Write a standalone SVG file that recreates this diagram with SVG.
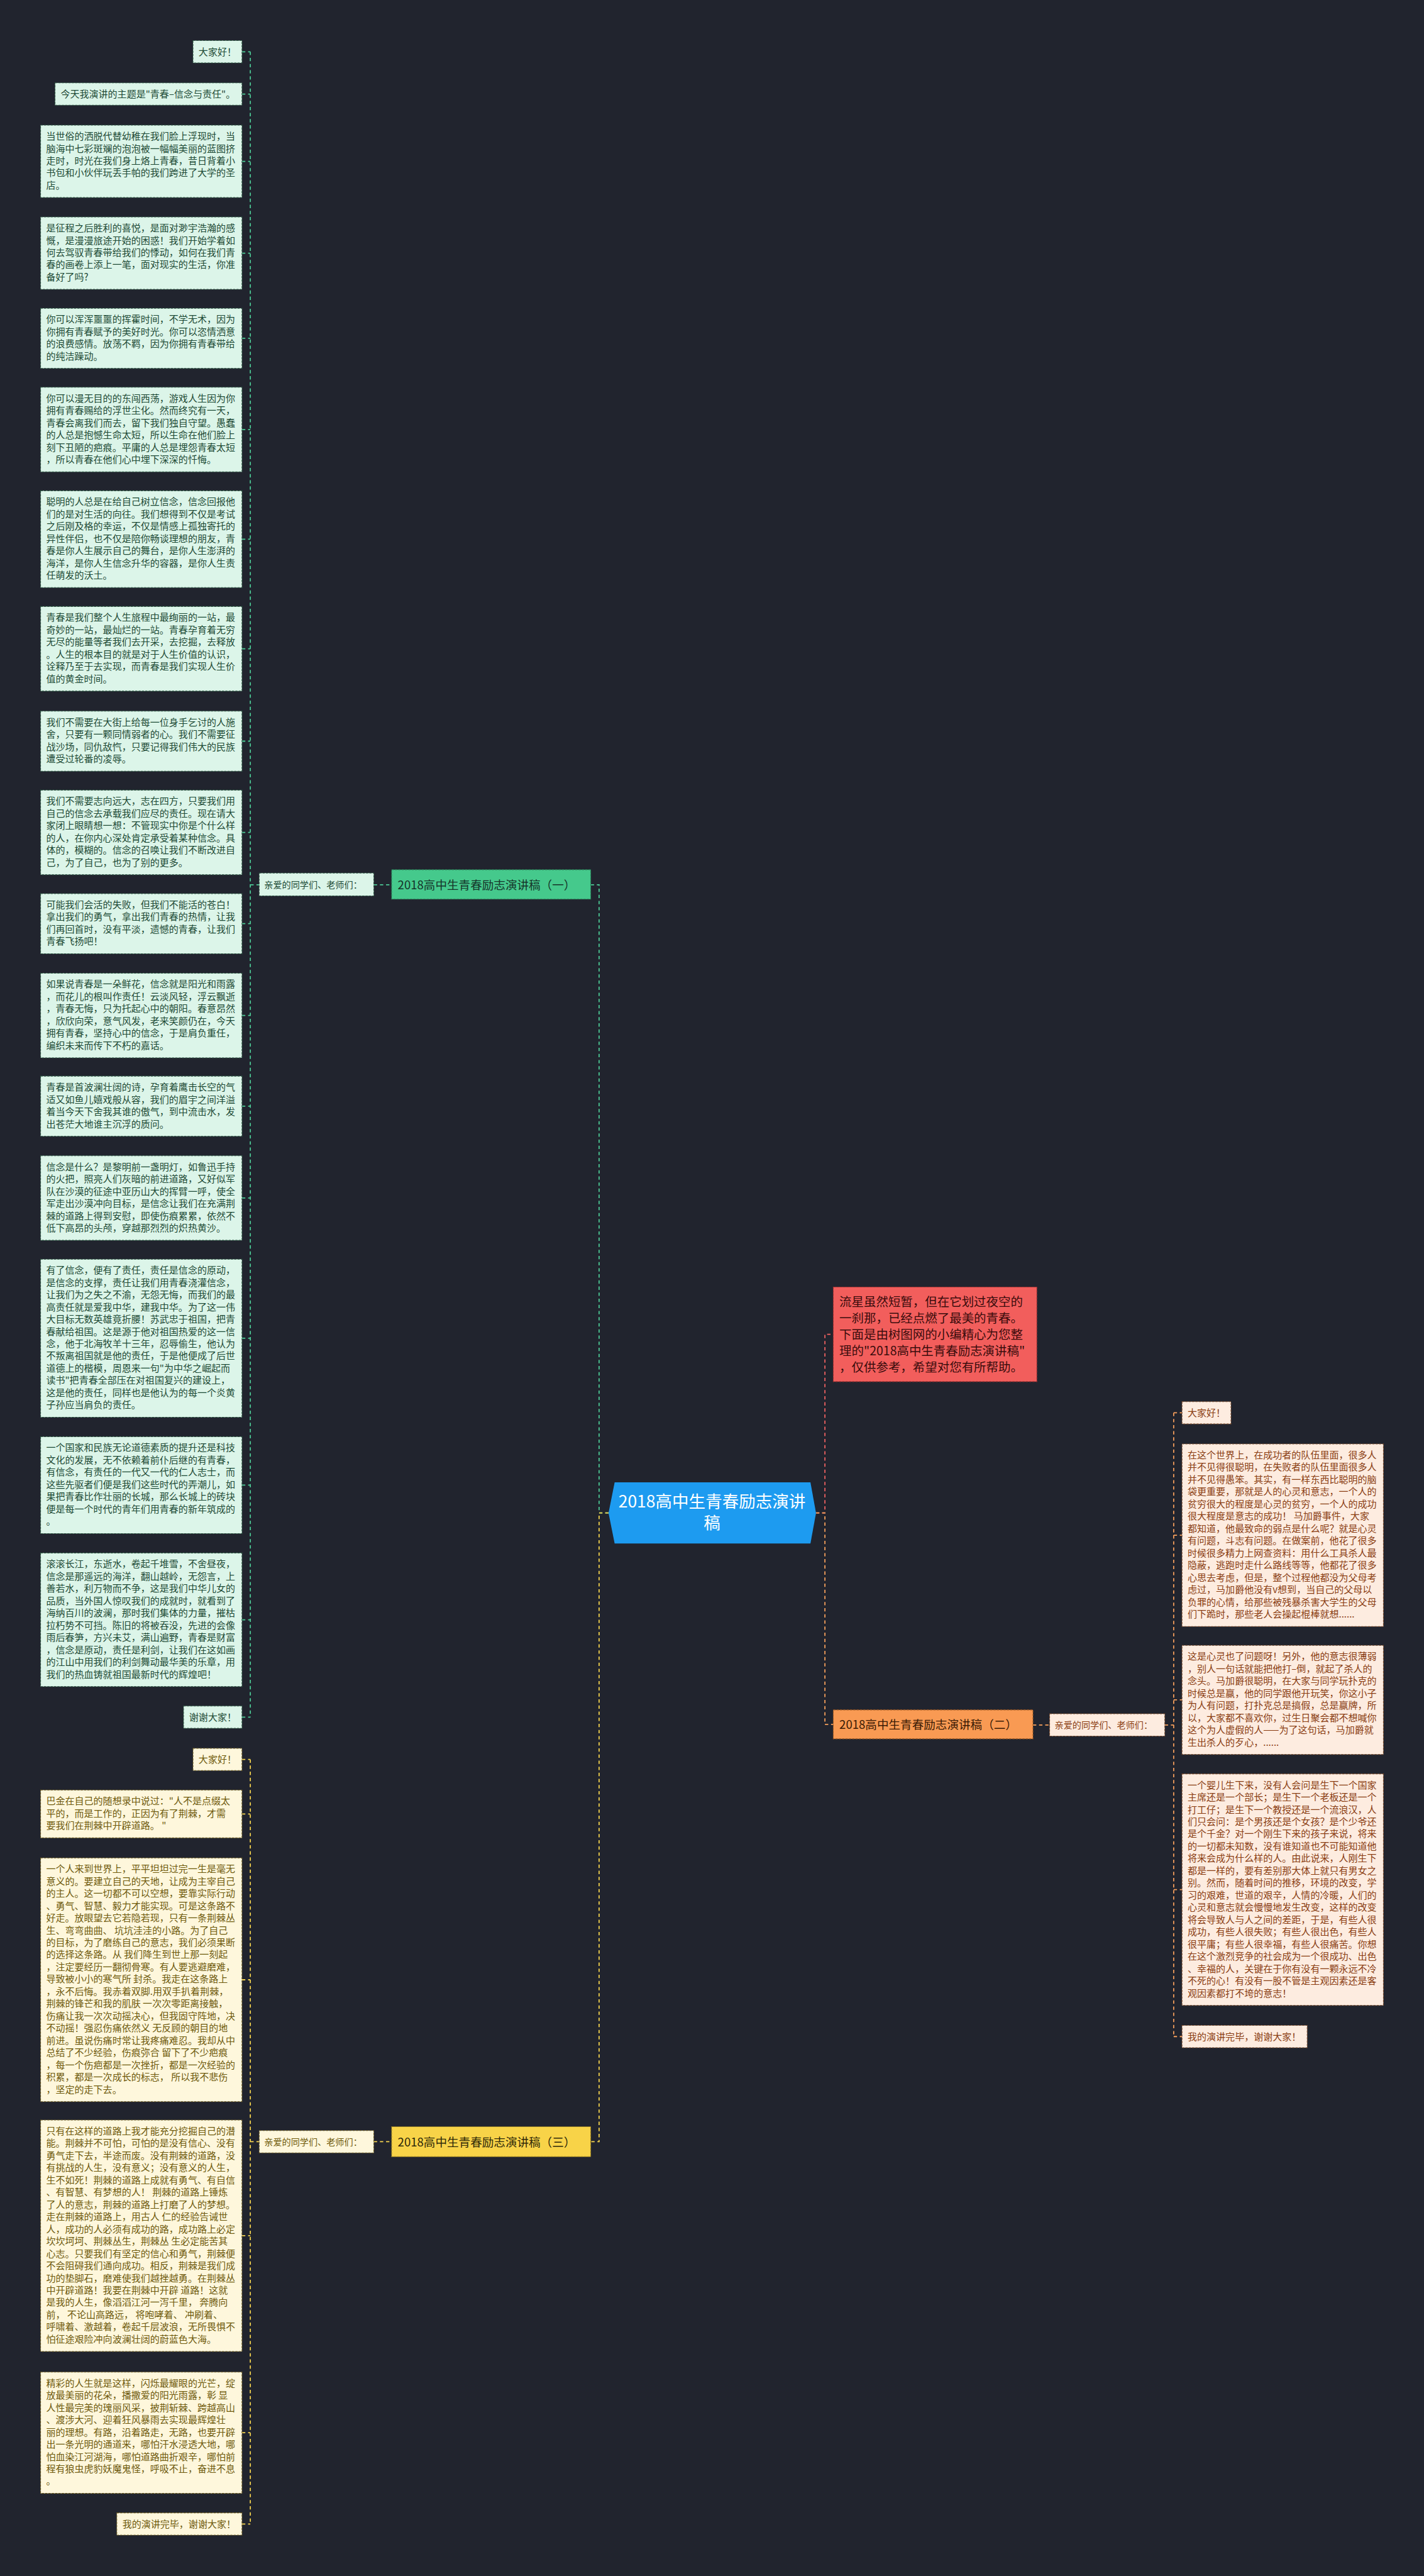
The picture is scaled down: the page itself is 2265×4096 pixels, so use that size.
<svg xmlns="http://www.w3.org/2000/svg" width="2265" height="4096" viewBox="0 0 2265 4096">
<style>
text{font-family:"Noto Sans CJK SC","Noto Sans",sans-serif}
.p{font-size:17px}
.gb{fill:#dcf5e9;stroke:#2f5a45;stroke-width:1.2;stroke-dasharray:4 2}
.gt{fill:#1d4a35}
.yb{fill:#fef7dc;stroke:#6a5a20;stroke-width:1.2;stroke-dasharray:4 2}
.yt{fill:#6e5a0c}
.ob{fill:#fdece0;stroke:#7a4a2a;stroke-width:1.2;stroke-dasharray:4 2}
.ot{fill:#8a3d12}
.cg{fill:none;stroke:#4cc995;stroke-width:2;stroke-dasharray:6 5}
.cy{fill:none;stroke:#f3d24e;stroke-width:2;stroke-dasharray:6 5}
.co{fill:none;stroke:#f7a05c;stroke-width:2;stroke-dasharray:6 5}
.cr{fill:none;stroke:#f06262;stroke-width:2;stroke-dasharray:6 5}
.lbl{font-size:16px}
.ttl{font-size:21px}
</style>
<rect width="2265" height="4096" fill="#21242e"/>
<g transform="scale(0.884766)">
<g id="connectors">
<path class="cg" d="M450 93V3086M435 93H450M435 169H450M435 290H450M435 455H450M435 608H450M435 772H450M435 969H450M435 1166H450M435 1332H450M435 1496H450M435 1660H450M435 1825H450M435 1988H450M435 2153H450M435 2405H450M435 2669H450M435 2911H450M435 3086H450M450 1590H466M672 1590H704M1094 2719H1077V1590H1062"/>
<path class="cy" d="M450 3162V4536M435 3162H450M435 3260H450M435 3558H450M435 4018H450M435 4372H450M435 4536H450M450 3849H466M672 3849H704M1094 2719H1077V3849H1062"/>
<path class="cr" d="M1467 2719H1483V2398H1498"/>
<path class="co" d="M1467 2719H1483V3099H1498M1857 3100H1887M2094 3100H2110M2110 2539V3660M2110 2539H2125M2110 2759H2125M2110 3055H2125M2110 3396H2125M2110 3660H2125"/>
</g>

<g id="center">
<polygon points="1105,2664 1457,2664 1467,2719 1457,2774 1105,2774 1094,2719" fill="#1d9bf0"/>
<text x="1280" y="2709" text-anchor="middle" font-size="30" fill="#ffffff">2018高中生青春励志演讲</text>
<text x="1280" y="2748" text-anchor="middle" font-size="30" fill="#ffffff">稿</text>
</g>

<g id="intro">
<rect x="1498" y="2313" width="366" height="170" fill="#f25e5c" stroke="#a03030" stroke-width="1.2" stroke-dasharray="4 2"/>
<text font-size="22" fill="#3a0c0c"><tspan x="1509" y="2347">流星虽然短暂，但在它划过夜空的</tspan><tspan x="1509" y="2376.5">一刹那，已经点燃了最美的青春。</tspan><tspan x="1509" y="2406">下面是由树图网的小编精心为您整</tspan><tspan x="1509" y="2435.5">理的"2018高中生青春励志演讲稿"</tspan><tspan x="1509" y="2465">，仅供参考，希望对您有所帮助。</tspan></text>
</g>

<g id="branch1">
<rect x="704" y="1563" width="358" height="53" fill="#45c98c" stroke="#2a7a55" stroke-width="1.2" stroke-dasharray="4 2"/>
<text class="ttl" x="715" y="1598" fill="#15352a">2018高中生青春励志演讲稿（一）</text>
</g>
<g id="branch1-greet">
<rect class="gb" x="466" y="1569" width="206" height="41"/>
<text class="lbl gt" x="475" y="1596">亲爱的同学们、老师们：</text>
</g>

<g id="branch2">
<rect x="1498" y="3073" width="359" height="52" fill="#f99a53" stroke="#a05a20" stroke-width="1.2" stroke-dasharray="4 2"/>
<text class="ttl" x="1509" y="3107" fill="#3a1a05">2018高中生青春励志演讲稿（二）</text>
</g>
<g id="branch2-greet">
<rect class="ob" x="1887" y="3080" width="207" height="40"/>
<text class="lbl ot" x="1896" y="3106">亲爱的同学们、老师们：</text>
</g>

<g id="branch3">
<rect x="704" y="3822" width="358" height="54" fill="#f8d348" stroke="#8a7420" stroke-width="1.2" stroke-dasharray="4 2"/>
<text class="ttl" x="715" y="3857" fill="#2e2908">2018高中生青春励志演讲稿（三）</text>
</g>
<g id="branch3-greet">
<rect class="yb" x="466" y="3829" width="206" height="40"/>
<text class="lbl yt" x="475" y="3855">亲爱的同学们、老师们：</text>
</g>

<!-- green column -->
<g id="g0" transform="translate(347,73)"><rect class="gb" width="88" height="40"/><text class="p gt" x="10" y="26">大家好！</text></g>
<g id="g1" transform="translate(99,149)"><rect class="gb" width="336" height="40"/><text class="p gt" x="10" y="26">今天我演讲的主题是"青春–信念与责任"。</text></g>
<g id="g2" transform="translate(73,225)"><rect class="gb" width="362" height="130"/><text class="p gt"><tspan x="10" y="26">当世俗的洒脱代替幼稚在我们脸上浮现时，当</tspan><tspan x="10" dy="22">脑海中七彩斑斓的泡泡被一幅幅美丽的蓝图挤</tspan><tspan x="10" dy="22">走时，时光在我们身上烙上青春，昔日背着小</tspan><tspan x="10" dy="22">书包和小伙伴玩丢手帕的我们跨进了大学的圣</tspan><tspan x="10" dy="22">店。</tspan></text></g>
<g id="g3" transform="translate(73,390)"><rect class="gb" width="362" height="130"/><text class="p gt"><tspan x="10" y="26">是征程之后胜利的喜悦，是面对渺宇浩瀚的感</tspan><tspan x="10" dy="22">慨，是漫漫旅途开始的困惑！我们开始学着如</tspan><tspan x="10" dy="22">何去驾驭青春带给我们的悸动，如何在我们青</tspan><tspan x="10" dy="22">春的画卷上添上一笔，面对现实的生活，你准</tspan><tspan x="10" dy="22">备好了吗?</tspan></text></g>
<g id="g4" transform="translate(73,554)"><rect class="gb" width="362" height="108"/><text class="p gt"><tspan x="10" y="26">你可以浑浑噩噩的挥霍时间，不学无术，因为</tspan><tspan x="10" dy="22">你拥有青春赋予的美好时光。你可以恣情洒意</tspan><tspan x="10" dy="22">的浪费感情。放荡不羁，因为你拥有青春带给</tspan><tspan x="10" dy="22">的纯洁躁动。</tspan></text></g>
<g id="g5" transform="translate(73,696)"><rect class="gb" width="362" height="152"/><text class="p gt"><tspan x="10" y="26">你可以漫无目的的东闯西荡，游戏人生因为你</tspan><tspan x="10" dy="22">拥有青春赐给的浮世尘化。然而终究有一天，</tspan><tspan x="10" dy="22">青春会离我们而去，留下我们独自守望。愚蠢</tspan><tspan x="10" dy="22">的人总是抱憾生命太短，所以生命在他们脸上</tspan><tspan x="10" dy="22">刻下丑陋的疤痕。平庸的人总是埋怨青春太短</tspan><tspan x="10" dy="22">，所以青春在他们心中埋下深深的忏悔。</tspan></text></g>
<g id="g6" transform="translate(73,882)"><rect class="gb" width="362" height="174"/><text class="p gt"><tspan x="10" y="26">聪明的人总是在给自己树立信念，信念回报他</tspan><tspan x="10" dy="22">们的是对生活的向往。我们想得到不仅是考试</tspan><tspan x="10" dy="22">之后刚及格的幸运，不仅是情感上孤独寄托的</tspan><tspan x="10" dy="22">异性伴侣，也不仅是陪你畅谈理想的朋友，青</tspan><tspan x="10" dy="22">春是你人生展示自己的舞台，是你人生澎湃的</tspan><tspan x="10" dy="22">海洋，是你人生信念升华的容器，是你人生责</tspan><tspan x="10" dy="22">任萌发的沃土。</tspan></text></g>
<g id="g7" transform="translate(73,1090)"><rect class="gb" width="362" height="152"/><text class="p gt"><tspan x="10" y="26">青春是我们整个人生旅程中最绚丽的一站，最</tspan><tspan x="10" dy="22">奇妙的一站，最灿烂的一站。青春孕育着无穷</tspan><tspan x="10" dy="22">无尽的能量等者我们去开采，去挖掘，去释放</tspan><tspan x="10" dy="22">。人生的根本目的就是对于人生价值的认识，</tspan><tspan x="10" dy="22">诠释乃至于去实现，而青春是我们实现人生价</tspan><tspan x="10" dy="22">值的黄金时间。</tspan></text></g>
<g id="g8" transform="translate(73,1278)"><rect class="gb" width="362" height="108"/><text class="p gt"><tspan x="10" y="26">我们不需要在大街上给每一位身手乞讨的人施</tspan><tspan x="10" dy="22">舍，只要有一颗同情弱者的心。我们不需要征</tspan><tspan x="10" dy="22">战沙场，同仇敌忾，只要记得我们伟大的民族</tspan><tspan x="10" dy="22">遭受过轮番的凌辱。</tspan></text></g>
<g id="g9" transform="translate(73,1420)"><rect class="gb" width="362" height="152"/><text class="p gt"><tspan x="10" y="26">我们不需要志向远大，志在四方，只要我们用</tspan><tspan x="10" dy="22">自己的信念去承载我们应尽的责任。现在请大</tspan><tspan x="10" dy="22">家闭上眼睛想一想：不管现实中你是个什么样</tspan><tspan x="10" dy="22">的人，在你内心深处肯定承受着某种信念。具</tspan><tspan x="10" dy="22">体的，模糊的。信念的召唤让我们不断改进自</tspan><tspan x="10" dy="22">己，为了自己，也为了别的更多。</tspan></text></g>
<g id="g10" transform="translate(73,1606)"><rect class="gb" width="362" height="108"/><text class="p gt"><tspan x="10" y="26">可能我们会活的失败，但我们不能活的苍白！</tspan><tspan x="10" dy="22">拿出我们的勇气，拿出我们青春的热情，让我</tspan><tspan x="10" dy="22">们再回首时，没有平淡，遗憾的青春，让我们</tspan><tspan x="10" dy="22">青春飞扬吧！</tspan></text></g>
<g id="g11" transform="translate(73,1749)"><rect class="gb" width="362" height="152"/><text class="p gt"><tspan x="10" y="26">如果说青春是一朵鲜花，信念就是阳光和雨露</tspan><tspan x="10" dy="22">，而花儿的根叫作责任！云淡风轻，浮云飘逝</tspan><tspan x="10" dy="22">，青春无悔，只为托起心中的朝阳。春意昂然</tspan><tspan x="10" dy="22">，欣欣向荣，意气风发，老来笑颜仍在，今天</tspan><tspan x="10" dy="22">拥有青春，坚持心中的信念，于是肩负重任，</tspan><tspan x="10" dy="22">编织未来而传下不朽的嘉话。</tspan></text></g>
<g id="g12" transform="translate(73,1934)"><rect class="gb" width="362" height="108"/><text class="p gt"><tspan x="10" y="26">青春是首波澜壮阔的诗，孕育着鹰击长空的气</tspan><tspan x="10" dy="22">适又如鱼儿嬉戏般从容，我们的眉宇之间洋溢</tspan><tspan x="10" dy="22">着当今天下舍我其谁的傲气，到中流击水，发</tspan><tspan x="10" dy="22">出苍茫大地谁主沉浮的质问。</tspan></text></g>
<g id="g13" transform="translate(73,2077)"><rect class="gb" width="362" height="152"/><text class="p gt"><tspan x="10" y="26">信念是什么？是黎明前一盏明灯，如鲁迅手持</tspan><tspan x="10" dy="22">的火把，照亮人们灰暗的前进道路，又好似军</tspan><tspan x="10" dy="22">队在沙漠的征途中亚历山大的挥臂一呼，使全</tspan><tspan x="10" dy="22">军走出沙漠冲向目标，是信念让我们在充满荆</tspan><tspan x="10" dy="22">棘的道路上得到安慰，即使伤痕累累，依然不</tspan><tspan x="10" dy="22">低下高昂的头颅，穿越那烈烈的炽热黄沙。</tspan></text></g>
<g id="g14" transform="translate(73,2263)"><rect class="gb" width="362" height="284"/><text class="p gt"><tspan x="10" y="26">有了信念，便有了责任，责任是信念的原动，</tspan><tspan x="10" dy="22">是信念的支撑，责任让我们用青春浇灌信念，</tspan><tspan x="10" dy="22">让我们为之失之不渝，无怨无悔，而我们的最</tspan><tspan x="10" dy="22">高责任就是爱我中华，建我中华。为了这一伟</tspan><tspan x="10" dy="22">大目标无数英雄竟折腰！苏武忠于祖国，把青</tspan><tspan x="10" dy="22">春献给祖国。这是源于他对祖国热爱的这一信</tspan><tspan x="10" dy="22">念，他于北海牧羊十三年，忍辱偷生，他认为</tspan><tspan x="10" dy="22">不叛离祖国就是他的责任，于是他便成了后世</tspan><tspan x="10" dy="22">道德上的楷模，周恩来一句"为中华之崛起而</tspan><tspan x="10" dy="22">读书"把青春全部压在对祖国复兴的建设上，</tspan><tspan x="10" dy="22">这是他的责任，同样也是他认为的每一个炎黄</tspan><tspan x="10" dy="22">子孙应当肩负的责任。</tspan></text></g>
<g id="g15" transform="translate(73,2582)"><rect class="gb" width="362" height="174"/><text class="p gt"><tspan x="10" y="26">一个国家和民族无论道德素质的提升还是科技</tspan><tspan x="10" dy="22">文化的发展，无不依赖着前仆后继的有青春，</tspan><tspan x="10" dy="22">有信念，有责任的一代又一代的仁人志士，而</tspan><tspan x="10" dy="22">这些先驱者们便是我们这些时代的弄潮儿，如</tspan><tspan x="10" dy="22">果把青春比作壮丽的长城，那么长城上的砖块</tspan><tspan x="10" dy="22">便是每一个时代的青年们用青春的新年筑成的</tspan><tspan x="10" dy="22">。</tspan></text></g>
<g id="g16" transform="translate(73,2791)"><rect class="gb" width="362" height="240"/><text class="p gt"><tspan x="10" y="26">滚滚长江，东逝水，卷起千堆雪，不舍昼夜，</tspan><tspan x="10" dy="22">信念是那遥远的海洋，翻山越岭，无怨言，上</tspan><tspan x="10" dy="22">善若水，利万物而不争，这是我们中华儿女的</tspan><tspan x="10" dy="22">品质，当外国人惊叹我们的成就时，就看到了</tspan><tspan x="10" dy="22">海纳百川的波澜，那时我们集体的力量，摧枯</tspan><tspan x="10" dy="22">拉朽势不可挡。陈旧的将被吞没，先进的会像</tspan><tspan x="10" dy="22">雨后春笋，方兴未艾，满山遍野，青春是财富</tspan><tspan x="10" dy="22">，信念是原动，责任是利剑，让我们在这如画</tspan><tspan x="10" dy="22">的江山中用我们的利剑舞动最华美的乐章，用</tspan><tspan x="10" dy="22">我们的热血铸就祖国最新时代的辉煌吧！</tspan></text></g>
<g id="g17" transform="translate(330,3066)"><rect class="gb" width="105" height="40"/><text class="p gt" x="10" y="26">谢谢大家！</text></g>

<!-- yellow column -->
<g id="y0" transform="translate(347,3142)"><rect class="yb" width="88" height="40"/><text class="p yt" x="10" y="26">大家好！</text></g>
<g id="y1" transform="translate(73,3217)"><rect class="yb" width="362" height="86"/><text class="p yt"><tspan x="10" y="26">巴金在自己的随想录中说过："人不是点缀太</tspan><tspan x="10" dy="22">平的，而是工作的，正因为有了荆棘，才需</tspan><tspan x="10" dy="22">要我们在荆棘中开辟道路。 "</tspan></text></g>
<g id="y2" transform="translate(73,3339)"><rect class="yb" width="362" height="438"/><text class="p yt"><tspan x="10" y="26">一个人来到世界上，平平坦坦过完一生是毫无</tspan><tspan x="10" dy="22">意义的。要建立自己的天地，让成为主宰自己</tspan><tspan x="10" dy="22">的主人。这一切都不可以空想，要靠实际行动</tspan><tspan x="10" dy="22">、勇气、智慧、毅力才能实现。可是这条路不</tspan><tspan x="10" dy="22">好走。放眼望去它若隐若现，只有一条荆棘丛</tspan><tspan x="10" dy="22">生、弯弯曲曲、 坑坑洼洼的小路。为了自己</tspan><tspan x="10" dy="22">的目标，为了磨练自己的意志，我们必须果断</tspan><tspan x="10" dy="22">的选择这条路。从 我们降生到世上那一刻起</tspan><tspan x="10" dy="22">，注定要经历一翻彻骨寒。有人要逃避磨难，</tspan><tspan x="10" dy="22">导致被小小的寒气所 封杀。我走在这条路上</tspan><tspan x="10" dy="22">，永不后悔。我赤着双脚.用双手扒着荆棘，</tspan><tspan x="10" dy="22">荆棘的锋芒和我的肌肤 一次次零距离接触，</tspan><tspan x="10" dy="22">伤痛让我一次次动摇决心，但我固守阵地，决</tspan><tspan x="10" dy="22">不动摇！强忍伤痛依然义 无反顾的朝目的地</tspan><tspan x="10" dy="22">前进。虽说伤痛时常让我疼痛难忍。我却从中</tspan><tspan x="10" dy="22">总结了不少经验，伤痕弥合 留下了不少疤痕</tspan><tspan x="10" dy="22">，每一个伤疤都是一次挫折，都是一次经验的</tspan><tspan x="10" dy="22">积累，都是一次成长的标志， 所以我不悲伤</tspan><tspan x="10" dy="22">，坚定的走下去。</tspan></text></g>
<g id="y3" transform="translate(73,3810)"><rect class="yb" width="362" height="416"/><text class="p yt"><tspan x="10" y="26">只有在这样的道路上我才能充分挖掘自己的潜</tspan><tspan x="10" dy="22">能。荆棘并不可怕，可怕的是没有信心、没有</tspan><tspan x="10" dy="22">勇气走下去，半途而废。没有荆棘的道路，没</tspan><tspan x="10" dy="22">有挑战的人生，没有意义；没有意义的人生，</tspan><tspan x="10" dy="22">生不如死！荆棘的道路上成就有勇气、有自信</tspan><tspan x="10" dy="22">、有智慧、有梦想的人！ 荆棘的道路上锤炼</tspan><tspan x="10" dy="22">了人的意志，荆棘的道路上打磨了人的梦想。</tspan><tspan x="10" dy="22">走在荆棘的道路上，用古人 仁的经验告诫世</tspan><tspan x="10" dy="22">人，成功的人必须有成功的路，成功路上必定</tspan><tspan x="10" dy="22">坎坎坷坷、荆棘丛生，荆棘丛 生必定能苦其</tspan><tspan x="10" dy="22">心志。只要我们有坚定的信心和勇气，荆棘便</tspan><tspan x="10" dy="22">不会阻碍我们通向成功。相反，荆棘是我们成</tspan><tspan x="10" dy="22">功的垫脚石，磨难使我们越挫越勇。在荆棘丛</tspan><tspan x="10" dy="22">中开辟道路！我要在荆棘中开辟 道路！这就</tspan><tspan x="10" dy="22">是我的人生，像滔滔江河一泻千里， 奔腾向</tspan><tspan x="10" dy="22">前， 不论山高路远， 将咆哮着、 冲刷着、</tspan><tspan x="10" dy="22">呼啸着、激越着，卷起千层波浪，无所畏惧不</tspan><tspan x="10" dy="22">怕征途艰险冲向波澜壮阔的蔚蓝色大海。</tspan></text></g>
<g id="y4" transform="translate(73,4263)"><rect class="yb" width="362" height="218"/><text class="p yt"><tspan x="10" y="26">精彩的人生就是这样，闪烁最耀眼的光芒，绽</tspan><tspan x="10" dy="22">放最美丽的花朵，播撒爱的阳光雨露，彰 显</tspan><tspan x="10" dy="22">人性最完美的瑰丽风采，披荆斩棘、跨越高山</tspan><tspan x="10" dy="22">、渡涉大河、迎着狂风暴雨去实现最辉煌壮</tspan><tspan x="10" dy="22">丽的理想。有路，沿着路走，无路，也要开辟</tspan><tspan x="10" dy="22">出一条光明的通道来，哪怕汗水浸透大地，哪</tspan><tspan x="10" dy="22">怕血染江河湖海，哪怕道路曲折艰辛，哪怕前</tspan><tspan x="10" dy="22">程有狼虫虎豹妖魔鬼怪，呼吸不止，奋进不息</tspan><tspan x="10" dy="22">。</tspan></text></g>
<g id="y5" transform="translate(210,4516)"><rect class="yb" width="225" height="40"/><text class="p yt" x="10" y="26">我的演讲完毕，谢谢大家！</text></g>

<!-- orange column -->
<g id="o0" transform="translate(2125,2519)"><rect class="ob" width="88" height="40"/><text class="p ot" x="10" y="26">大家好！</text></g>
<g id="o1" transform="translate(2125,2595)"><rect class="ob" width="362" height="328"/><text class="p ot"><tspan x="10" y="26">在这个世界上，在成功者的队伍里面，很多人</tspan><tspan x="10" dy="22">并不见得很聪明，在失败者的队伍里面很多人</tspan><tspan x="10" dy="22">并不见得愚笨。其实，有一样东西比聪明的脑</tspan><tspan x="10" dy="22">袋更重要，那就是人的心灵和意志，一个人的</tspan><tspan x="10" dy="22">贫穷很大的程度是心灵的贫穷，一个人的成功</tspan><tspan x="10" dy="22">很大程度是意志的成功！ 马加爵事件，大家</tspan><tspan x="10" dy="22">都知道，他最致命的弱点是什么呢？就是心灵</tspan><tspan x="10" dy="22">有问题，斗志有问题。在做案前，他花了很多</tspan><tspan x="10" dy="22">时候很多精力上网查资料：用什么工具杀人最</tspan><tspan x="10" dy="22">隐蔽，逃跑时走什么路线等等，他都花了很多</tspan><tspan x="10" dy="22">心思去考虑，但是，整个过程他都没为父母考</tspan><tspan x="10" dy="22">虑过，马加爵他没有v想到，当自己的父母以</tspan><tspan x="10" dy="22">负罪的心情，给那些被残暴杀害大学生的父母</tspan><tspan x="10" dy="22">们下跪时，那些老人会操起棍棒就想......</tspan></text></g>
<g id="o2" transform="translate(2125,2957)"><rect class="ob" width="362" height="196"/><text class="p ot"><tspan x="10" y="26">这是心灵也了问题呀！另外，他的意志很薄弱</tspan><tspan x="10" dy="22">，别人一句话就能把他打–倒，就起了杀人的</tspan><tspan x="10" dy="22">念头。马加爵很聪明，在大家与同学玩扑克的</tspan><tspan x="10" dy="22">时候总是赢，他的同学跟他开玩笑，你这小子</tspan><tspan x="10" dy="22">为人有问题，打扑克总是搞假，总是赢牌，所</tspan><tspan x="10" dy="22">以，大家都不喜欢你，过生日聚会都不想喊你</tspan><tspan x="10" dy="22">这个为人虚假的人——为了这句话，马加爵就</tspan><tspan x="10" dy="22">生出杀人的歹心，......</tspan></text></g>
<g id="o3" transform="translate(2125,3188)"><rect class="ob" width="362" height="416"/><text class="p ot"><tspan x="10" y="26">一个婴儿生下来，没有人会问是生下一个国家</tspan><tspan x="10" dy="22">主席还是一个部长；是生下一个老板还是一个</tspan><tspan x="10" dy="22">打工仔；是生下一个教授还是一个流浪汉，人</tspan><tspan x="10" dy="22">们只会问：是个男孩还是个女孩？是个少爷还</tspan><tspan x="10" dy="22">是个千金？对一个刚生下来的孩子来说，将来</tspan><tspan x="10" dy="22">的一切都未知数，没有谁知道也不可能知道他</tspan><tspan x="10" dy="22">将来会成为什么样的人。由此说来，人刚生下</tspan><tspan x="10" dy="22">都是一样的，要有差别那大体上就只有男女之</tspan><tspan x="10" dy="22">别。然而，随着时间的推移，环境的改变，学</tspan><tspan x="10" dy="22">习的艰难，世道的艰辛，人情的冷暖，人们的</tspan><tspan x="10" dy="22">心灵和意志就会慢慢地发生改变，这样的改变</tspan><tspan x="10" dy="22">将会导致人与人之间的差距，于是，有些人很</tspan><tspan x="10" dy="22">成功，有些人很失败；有些人很出色，有些人</tspan><tspan x="10" dy="22">很平庸；有些人很幸福，有些人很痛苦。你想</tspan><tspan x="10" dy="22">在这个激烈竞争的社会成为一个很成功、出色</tspan><tspan x="10" dy="22">、幸福的人，关键在于你有没有一颗永远不冷</tspan><tspan x="10" dy="22">不死的心！有没有一股不管是主观因素还是客</tspan><tspan x="10" dy="22">观因素都打不垮的意志！</tspan></text></g>
<g id="o4" transform="translate(2125,3640)"><rect class="ob" width="225" height="40"/><text class="p ot" x="10" y="26">我的演讲完毕，谢谢大家！</text></g>
</g>
</svg>
